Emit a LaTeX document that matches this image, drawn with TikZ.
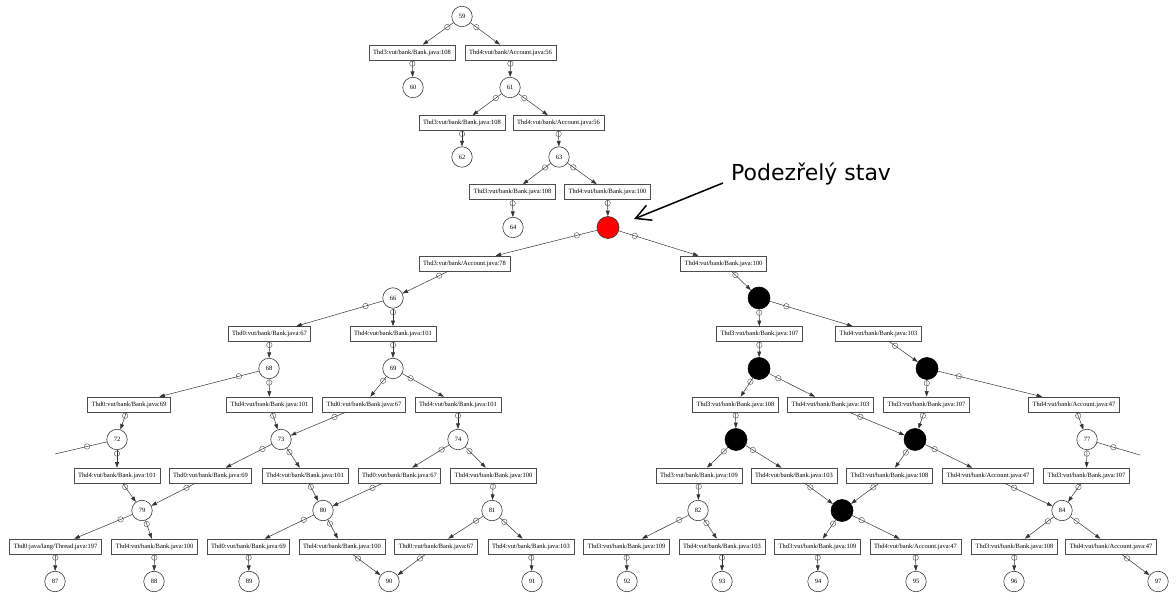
\documentclass[tikz,border=0pt]{standalone}
\usepackage{fontspec}
\setmainfont{Liberation Serif}
\newfontfamily\calloutfont{DejaVu Sans}
\usetikzlibrary{arrows.meta}
\tikzset{
  lbl/.style={font=\fontsize{6.5pt}{7pt}\selectfont},
  st/.style={circle, draw=black!75, line width=0.6pt, minimum size=20.5pt, inner sep=0pt, lbl},
  blk/.style={circle, draw=black, fill=black, line width=0.6pt, minimum size=22pt, inner sep=0pt},
  redst/.style={circle, draw=black!80, fill=red, line width=0.6pt, minimum size=22pt, inner sep=0pt},
  tr/.style={rectangle, draw=black!70, line width=0.6pt, minimum height=15pt, inner xsep=4pt, inner ysep=0pt, lbl},
  ed/.style={draw=black!80, line width=0.5pt, -{Triangle[length=5.5pt,width=3.8pt]}},
  edplain/.style={draw=black!80, line width=0.5pt},
  mk/.style={circle, draw=black!70, line width=0.4pt, minimum size=5.5pt, inner sep=0pt},
}
\newcommand\edg[2]{\draw[ed] (#1) -- node[mk,pos=0.2]{} (#2);}
\begin{document}
\begin{tikzpicture}[x=1pt,y=-1pt]
\useasboundingbox (0,0) rectangle (1176,593);
% rank 0-6
\node[st] (n59) at (462,16.5) {59};
\node[tr] (b1) at (412,52.5) {Thd3:vut/bank/Bank.java:108};
\node[tr] (b2) at (510.5,52.5) {Thd4:vut/bank/Account.java:56};
\node[st] (n60) at (413,87.5) {60};
\node[st] (n61) at (510,87.5) {61};
\node[tr] (b3) at (462,123) {Thd3:vut/bank/Bank.java:108};
\node[tr] (b4) at (558.5,123) {Thd4:vut/bank/Account.java:56};
\node[st] (n62) at (462,157) {62};
\node[st] (n63) at (559,157) {63};
\node[tr] (b5) at (512.5,192) {Thd3:vut/bank/Bank.java:108};
\node[tr] (b6) at (607.5,192) {Thd4:vut/bank/Bank.java:100};
\node[st] (n64) at (513,227.5) {64};
\node[redst] (nR) at (608,227.5) {};
% rank 7-8
\node[tr] (b7) at (464.5,263.5) {Thd3:vut/bank/Account.java:78};
\node[tr] (b8) at (723.5,263.5) {Thd4:vut/bank/Bank.java:100};
\node[st] (n66) at (393,298) {66};
\node[blk] (bA) at (759,298) {};
% rank 9-10
\node[tr] (b9) at (269.5,334) {Thd0:vut/bank/Bank.java:67};
\node[tr] (b10) at (393,334) {Thd4:vut/bank/Bank.java:101};
\node[tr] (b11) at (759.5,334) {Thd3:vut/bank/Bank.java:107};
\node[tr] (b12) at (878.5,334) {Thd4:vut/bank/Bank.java:103};
\node[st] (n68) at (269,368.5) {68};
\node[st] (n69) at (393,368.5) {69};
\node[blk] (bB) at (759,368.5) {};
\node[blk] (bC) at (927,368.5) {};
% rank 11-12
\node[tr] (b13) at (129,404.5) {Thd0:vut/bank/Bank.java:69};
\node[tr] (b14) at (269.5,404.5) {Thd4:vut/bank/Bank.java:101};
\node[tr] (b15) at (364,404.5) {Thd0:vut/bank/Bank.java:67};
\node[tr] (b16) at (458,404.5) {Thd4:vut/bank/Bank.java:101};
\node[tr] (b17) at (735.5,404.5) {Thd3:vut/bank/Bank.java:108};
\node[tr] (b18) at (830.5,404.5) {Thd4:vut/bank/Bank.java:103};
\node[tr] (b19) at (926.5,404.5) {Thd3:vut/bank/Bank.java:107};
\node[tr] (b20) at (1074,404.5) {Thd4:vut/bank/Account.java:47};
\node[st] (n72) at (117,439.5) {72};
\node[st] (n73) at (281,439.5) {73};
\node[st] (n74) at (458,439.5) {74};
\node[blk] (bD) at (736,439.5) {};
\node[blk] (bE) at (915,439.5) {};
\node[st] (n77) at (1087,439.5) {77};
\coordinate (offL) at (55,454);
\coordinate (offR) at (1140,455);
% rank 13-14
\node[tr] (b21) at (117,475.5) {Thd4:vut/bank/Bank.java:101};
\node[tr] (b22) at (210.5,475.5) {Thd0:vut/bank/Bank.java:69};
\node[tr] (b23) at (305,475.5) {Thd4:vut/bank/Bank.java:101};
\node[tr] (b24) at (399.5,475.5) {Thd0:vut/bank/Bank.java:67};
\node[tr] (b25) at (493.5,475.5) {Thd4:vut/bank/Bank.java:100};
\node[tr] (b26) at (699,475.5) {Thd3:vut/bank/Bank.java:109};
\node[tr] (b27) at (794,475.5) {Thd4:vut/bank/Bank.java:103};
\node[tr] (b28) at (889.5,475.5) {Thd3:vut/bank/Bank.java:108};
\node[tr] (b29) at (988,475.5) {Thd4:vut/bank/Account.java:47};
\node[tr] (b30) at (1086.5,475.5) {Thd3:vut/bank/Bank.java:107};
\node[st] (n79) at (142,510.5) {79};
\node[st] (n80) at (323,510.5) {80};
\node[st] (n81) at (492,510.5) {81};
\node[st] (n82) at (698,510.5) {82};
\node[blk] (bF) at (842,510.5) {};
\node[st] (n84) at (1062,510.5) {84};
% rank 15-16
\node[tr] (b31) at (55.5,546.5) {Thd0:java/lang/Thread.java:197};
\node[tr] (b32) at (154.5,546.5) {Thd4:vut/bank/Bank.java:100};
\node[tr] (b33) at (248.5,546.5) {Thd0:vut/bank/Bank.java:69};
\node[tr] (b34) at (342,546.5) {Thd4:vut/bank/Bank.java:100};
\node[tr] (b35) at (436,546.5) {Thd0:vut/bank/Bank.java:67};
\node[tr] (b36) at (531,546.5) {Thd4:vut/bank/Bank.java:103};
\node[tr] (b37) at (626.5,546.5) {Thd3:vut/bank/Bank.java:109};
\node[tr] (b38) at (722,546.5) {Thd4:vut/bank/Bank.java:103};
\node[tr] (b39) at (817.5,546.5) {Thd3:vut/bank/Bank.java:109};
\node[tr] (b40) at (915.5,546.5) {Thd4:vut/bank/Account.java:47};
\node[tr] (b41) at (1014.5,546.5) {Thd3:vut/bank/Bank.java:108};
\node[tr] (b42) at (1111,546.5) {Thd4:vut/bank/Account.java:47};
\node[st] (n87) at (55,581.5) {87};
\node[st] (n88) at (154,581.5) {88};
\node[st] (n89) at (249,581.5) {89};
\node[st] (n90) at (389,581.5) {90};
\node[st] (n91) at (532,581.5) {91};
\node[st] (n92) at (627,581.5) {92};
\node[st] (n93) at (722,581.5) {93};
\node[st] (n94) at (818,581.5) {94};
\node[st] (n95) at (916,581.5) {95};
\node[st] (n96) at (1014,581.5) {96};
\node[st] (n97) at (1158,581.5) {97};
% edges
\edg{n59}{b1}\edg{n59}{b2}\edg{b1}{n60}\edg{b2}{n61}
\edg{n61}{b3}\edg{n61}{b4}\edg{b3}{n62}\edg{b4}{n63}
\edg{n63}{b5}\edg{n63}{b6}\edg{b5}{n64}\edg{b6}{nR}
\edg{nR}{b7}\edg{nR}{b8}\edg{b7}{n66}\edg{b8}{bA}
\edg{n66}{b9}\edg{n66}{b10}\edg{bA}{b11}\edg{bA}{b12}
\edg{b9}{n68}\edg{b10}{n69}\edg{b11}{bB}\edg{b12}{bC}
\edg{n68}{b13}\edg{n68}{b14}\edg{n69}{b15}\edg{n69}{b16}
\edg{bB}{b17}\edg{bB}{b18}\edg{bC}{b19}\edg{bC}{b20}
\edg{b13}{n72}\edg{b14}{n73}\edg{b15}{n73}\edg{b16}{n74}
\edg{b17}{bD}\edg{b18}{bE}\edg{b19}{bE}\edg{b20}{n77}
\draw[edplain] (n72) -- node[mk,pos=0.38]{} (offL);
\draw[edplain] (n77) -- node[mk,pos=0.38]{} (offR);
\edg{n72}{b21}\edg{n73}{b22}\edg{n73}{b23}\edg{n74}{b24}\edg{n74}{b25}
\edg{bD}{b26}\edg{bD}{b27}\edg{bE}{b28}\edg{bE}{b29}\edg{n77}{b30}
\edg{b21}{n79}\edg{b22}{n79}\edg{b23}{n80}\edg{b24}{n80}\edg{b25}{n81}
\edg{b26}{n82}\edg{b27}{bF}\edg{b28}{bF}\edg{b29}{n84}\edg{b30}{n84}
\edg{n79}{b31}\edg{n79}{b32}\edg{n80}{b33}\edg{n80}{b34}\edg{n81}{b35}\edg{n81}{b36}
\edg{n82}{b37}\edg{n82}{b38}\edg{bF}{b39}\edg{bF}{b40}\edg{n84}{b41}\edg{n84}{b42}
\edg{b31}{n87}\edg{b32}{n88}\edg{b33}{n89}\edg{b34}{n90}\edg{b35}{n90}\edg{b36}{n91}
\edg{b37}{n92}\edg{b38}{n93}\edg{b39}{n94}\edg{b40}{n95}\edg{b41}{n96}\edg{b42}{n97}
% callout
\node[anchor=base west, inner sep=0pt, font=\calloutfont\fontsize{22pt}{26pt}\selectfont] (callout) at (731,181) {Podezřelý stav};
\coordinate (ctail) at (723,183);
\coordinate (ctip) at (634,219);
\draw[line width=1.5pt, -{Straight Barb[length=15pt,width=16pt]}] (ctail) -- (ctip);
\end{tikzpicture}
\end{document}
